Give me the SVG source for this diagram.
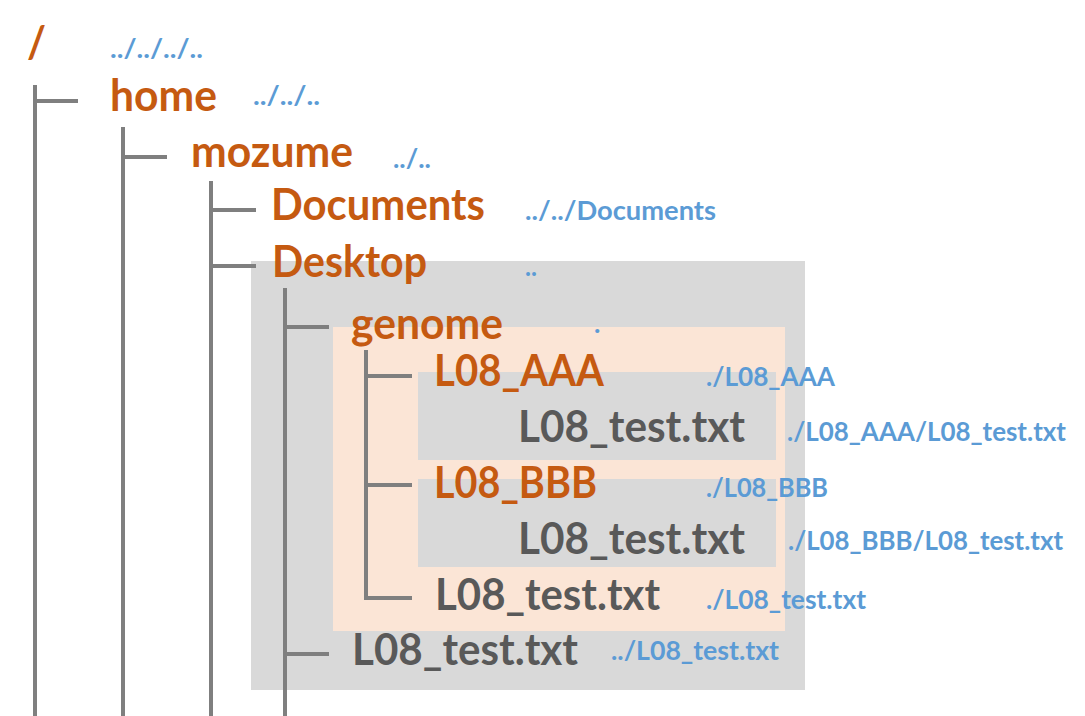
<svg xmlns="http://www.w3.org/2000/svg" width="1085" height="716" viewBox="0 0 1085 716">
<style>
.dir{font-family:Lato,"Liberation Sans",sans-serif;font-weight:bold;font-size:43px;fill:#C55A11}
.file{font-family:Lato,"Liberation Sans",sans-serif;font-weight:bold;font-size:43px;fill:#595959}
.path{font-family:Lato,"Liberation Sans",sans-serif;font-weight:bold;font-size:27px;fill:#5B9BD5}
.ln{stroke:#7F7F7F;stroke-width:4;fill:none}
</style>
<rect id="desktop-box" x="251" y="261" width="554" height="429" fill="#D9D9D9"/>
<rect id="genome-box" x="333" y="327" width="452" height="304" fill="#FBE5D6"/>
<rect id="aaa-box" x="418" y="372" width="358" height="88" fill="#D9D9D9"/>
<rect id="bbb-box" x="418" y="479" width="358" height="88" fill="#D9D9D9"/>
<g id="connectors">
<path class="ln" d="M35 85V716M35 101H78"/>
<path class="ln" d="M123 127V716M123 157H167"/>
<path class="ln" d="M211 181V716M211 210H256M211 266H256"/>
<path class="ln" d="M285 288V716M285 327H329M285 654H329"/>
<path class="ln" d="M366 350V598H412M366 376H412M366 485H412"/>
</g>
<g id="root"><text class="dir" x="27" y="58" font-size="54" textLength="19" lengthAdjust="spacingAndGlyphs">/</text><text class="path" x="110" y="58" textLength="93" lengthAdjust="spacingAndGlyphs">../../../..</text></g>
<g id="home"><text class="dir" x="110" y="111" textLength="107" lengthAdjust="spacingAndGlyphs">home</text><text class="path" x="253" y="105" textLength="67" lengthAdjust="spacingAndGlyphs">../../..</text></g>
<g id="mozume"><text class="dir" x="191" y="167" textLength="162" lengthAdjust="spacingAndGlyphs">mozume</text><text class="path" x="393" y="168" textLength="38" lengthAdjust="spacingAndGlyphs">../..</text></g>
<g id="documents"><text class="dir" x="271" y="220" textLength="214" lengthAdjust="spacingAndGlyphs">Documents</text><text class="path" x="525" y="220" textLength="191" lengthAdjust="spacingAndGlyphs">../../Documents</text></g>
<g id="desktop"><text class="dir" x="272" y="277" textLength="155" lengthAdjust="spacingAndGlyphs">Desktop</text><text class="path" x="525" y="276" textLength="12" lengthAdjust="spacingAndGlyphs">..</text></g>
<g id="genome"><text class="dir" x="351" y="339" textLength="152" lengthAdjust="spacingAndGlyphs">genome</text><text class="path" x="594" y="333">.</text></g>
<g id="l08aaa"><text class="dir" x="434" y="386" textLength="170" lengthAdjust="spacingAndGlyphs">L08_AAA</text><text class="path" x="706" y="386" textLength="129" lengthAdjust="spacingAndGlyphs">./L08_AAA</text></g>
<g id="aaa-test"><text class="file" x="518" y="442" textLength="227" lengthAdjust="spacingAndGlyphs">L08_test.txt</text><text class="path" x="787" y="441" textLength="279" lengthAdjust="spacingAndGlyphs">./L08_AAA/L08_test.txt</text></g>
<g id="l08bbb"><text class="dir" x="434" y="498" textLength="163" lengthAdjust="spacingAndGlyphs">L08_BBB</text><text class="path" x="706" y="497" textLength="122" lengthAdjust="spacingAndGlyphs">./L08_BBB</text></g>
<g id="bbb-test"><text class="file" x="518" y="554" textLength="227" lengthAdjust="spacingAndGlyphs">L08_test.txt</text><text class="path" x="788" y="550" textLength="275" lengthAdjust="spacingAndGlyphs">./L08_BBB/L08_test.txt</text></g>
<g id="genome-test"><text class="file" x="435" y="610" textLength="225" lengthAdjust="spacingAndGlyphs">L08_test.txt</text><text class="path" x="706" y="609" textLength="160" lengthAdjust="spacingAndGlyphs">./L08_test.txt</text></g>
<g id="desktop-test"><text class="file" x="352" y="665" textLength="226" lengthAdjust="spacingAndGlyphs">L08_test.txt</text><text class="path" x="611" y="660" textLength="168" lengthAdjust="spacingAndGlyphs">../L08_test.txt</text></g>
</svg>
